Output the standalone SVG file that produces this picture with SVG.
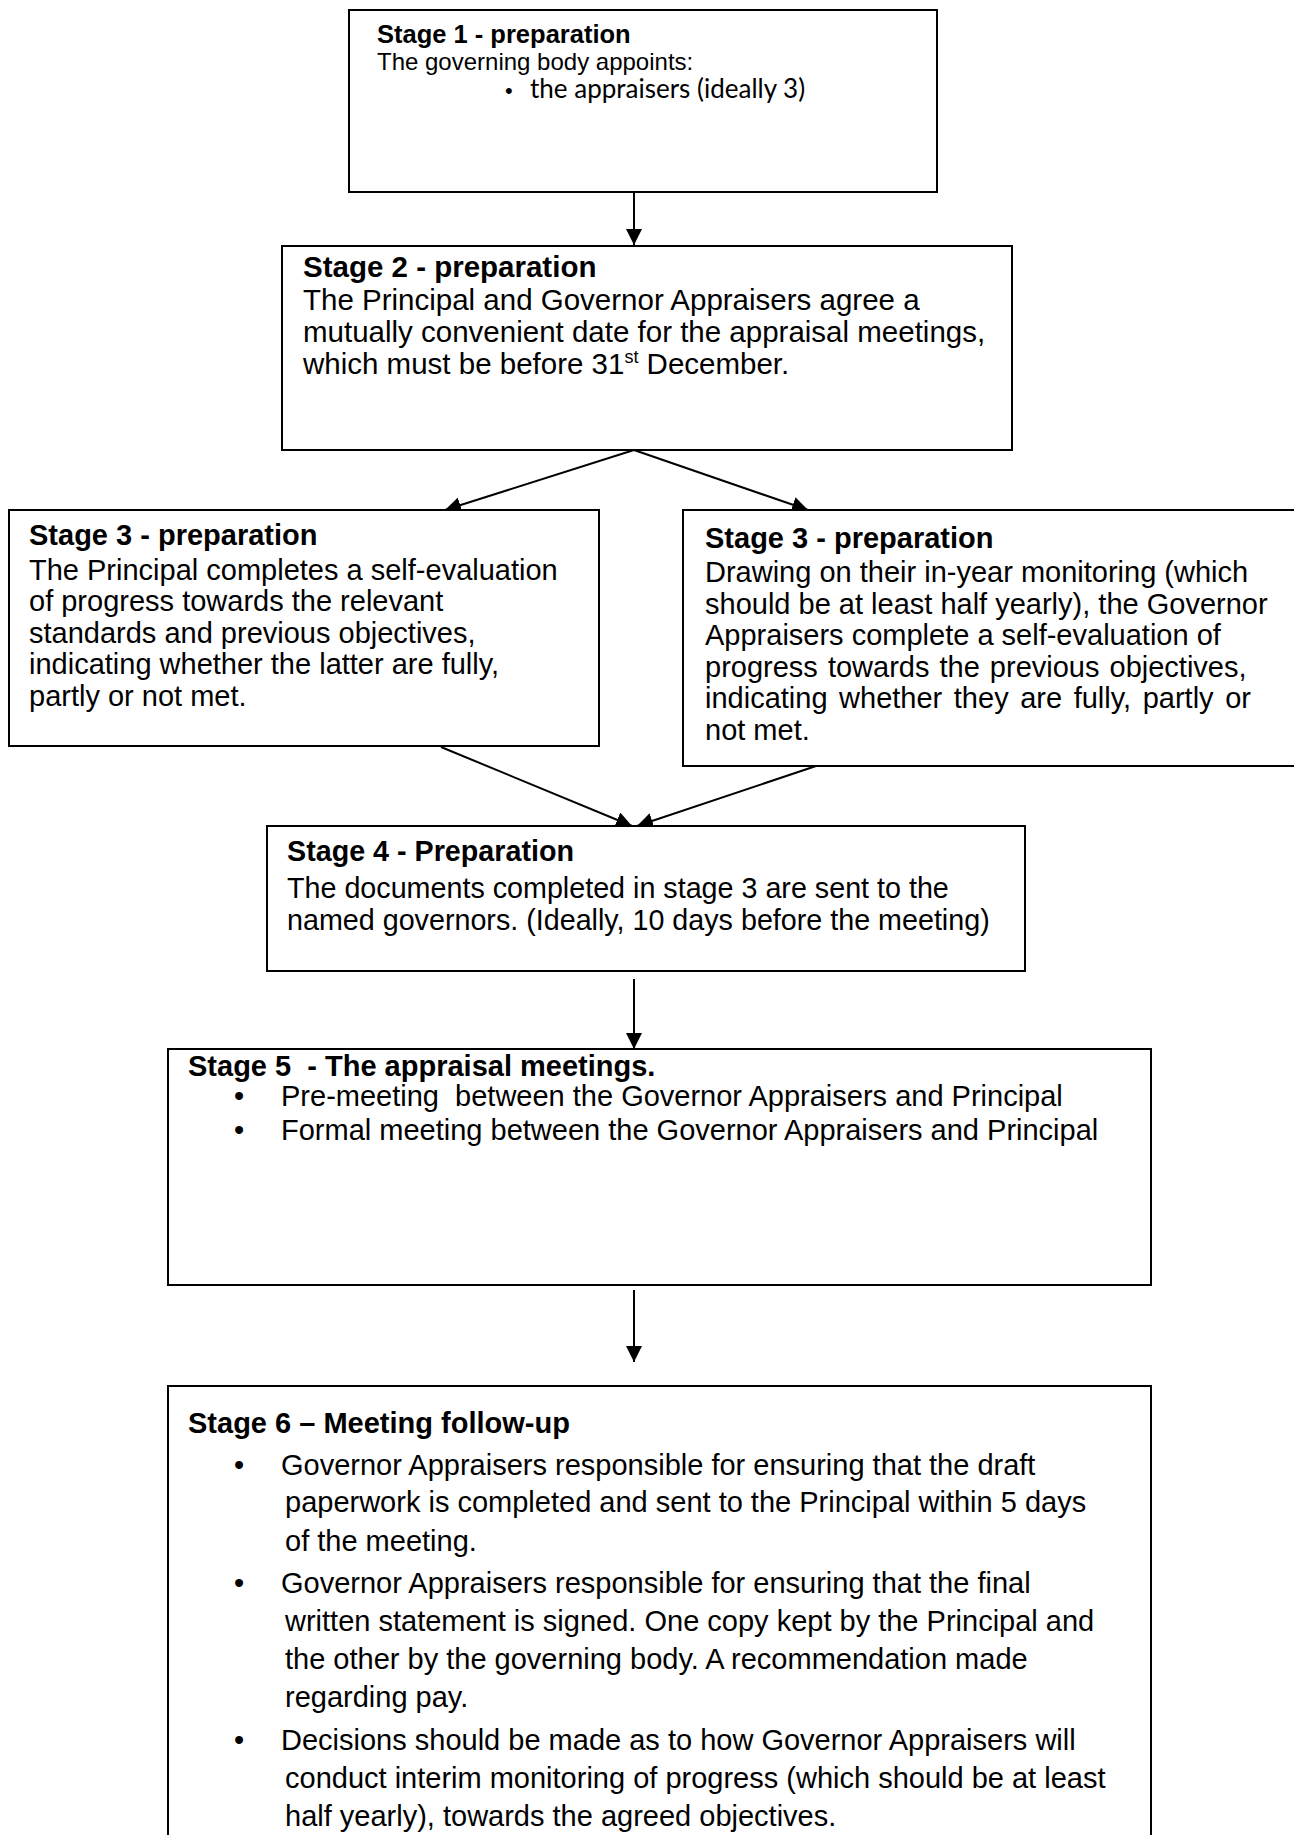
<svg xmlns="http://www.w3.org/2000/svg" width="1294" height="1835" viewBox="0 0 1294 1835">
<style>
.box{fill:#fff;stroke:#000;stroke-width:2}
.t{font-family:"Liberation Sans",Arial,sans-serif;fill:#000}
.b{font-weight:bold}
.cal{font-family:Lato,"Liberation Sans",sans-serif;fill:#000}
.c{stroke:#000;stroke-width:2;fill:none;marker-end:url(#ah)}
.s56{font-size:29px}
</style>
<defs>
<marker id="ah" markerUnits="userSpaceOnUse" markerWidth="16" markerHeight="16" viewBox="0 0 16 16" refX="16" refY="8" orient="auto">
<path d="M0,0 L16,8 L0,16 Z" fill="#000"/>
</marker>
</defs>
<rect width="1294" height="1835" fill="#fff"/>
<g id="connectors">
<line class="c" x1="634" y1="192" x2="634" y2="245"/>
<line class="c" x1="634" y1="450" x2="445" y2="510"/>
<line class="c" x1="634" y1="450" x2="808" y2="510"/>
<line class="c" x1="441" y1="747" x2="632" y2="826"/>
<line class="c" x1="816" y1="766" x2="637" y2="826"/>
<line class="c" x1="634" y1="979" x2="634" y2="1049"/>
<line class="c" x1="634" y1="1290" x2="634" y2="1362"/>
</g>
<g id="stage1">
<rect class="box" x="349" y="10" width="588" height="182"/>
<text class="t b" x="377" y="43" font-size="25.5">Stage 1 - preparation</text>
<text class="t" x="377" y="70" font-size="24">The governing body appoints:</text>
<text class="t" x="505" y="98" font-size="22">•</text>
<text class="cal" x="530" y="98" font-size="26">the appraisers (ideally 3)</text>
</g>
<g id="stage2">
<rect class="box" x="282" y="246" width="730" height="204"/>
<text class="t b" x="303" y="277" font-size="29.5">Stage 2 - preparation</text>
<text class="t" x="303" y="310" font-size="29.5">The Principal and Governor Appraisers agree a</text>
<text class="t" x="303" y="342" font-size="29.5">mutually convenient date for the appraisal meetings,</text>
<text class="t" x="303" y="374" font-size="29.5">which must be before 31<tspan font-size="18" dy="-11">st</tspan><tspan dy="11"> December.</tspan></text>
</g>
<g id="stage3a">
<rect class="box" x="9" y="510" width="590" height="236"/>
<text class="t b" x="29" y="545" font-size="29">Stage 3 - preparation</text>
<text class="t" x="29" y="580" font-size="29">The Principal completes a self-evaluation</text>
<text class="t" x="29" y="611" font-size="29">of progress towards the relevant</text>
<text class="t" x="29" y="643" font-size="29">standards and previous objectives,</text>
<text class="t" x="29" y="674" font-size="29">indicating whether the latter are fully,</text>
<text class="t" x="29" y="706" font-size="29">partly or not met.</text>
</g>
<g id="stage3b">
<rect class="box" x="683" y="510" width="620" height="256"/>
<text class="t b" x="705" y="548" font-size="29">Stage 3 - preparation</text>
<text class="t" x="705" y="582" font-size="29">Drawing on their in-year monitoring (which</text>
<text class="t" x="705" y="614" font-size="29">should be at least half yearly), the Governor</text>
<text class="t" x="705" y="645" font-size="29">Appraisers complete a self-evaluation of</text>
<text class="t" x="705" y="677" font-size="29" word-spacing="2">progress towards the previous objectives,</text>
<text class="t" x="705" y="708" font-size="29" word-spacing="3.5">indicating whether they are fully, partly or</text>
<text class="t" x="705" y="740" font-size="29">not met.</text>
</g>
<g id="stage4">
<rect class="box" x="267" y="826" width="758" height="145"/>
<text class="t b" x="287" y="861" font-size="28.7">Stage 4 - Preparation</text>
<text class="t" x="287" y="898" font-size="28.7">The documents completed in stage 3 are sent to the</text>
<text class="t" x="287" y="930" font-size="28.7">named governors. (Ideally, 10 days before the meeting)</text>
</g>
<g id="stage5">
<rect class="box" x="168" y="1049" width="983" height="236"/>
<text class="t b s56" x="188" y="1076" xml:space="preserve">Stage 5  - The appraisal meetings.</text>
<text class="t s56" x="234" y="1106">•</text>
<text class="t s56" x="281" y="1106" xml:space="preserve">Pre-meeting  between the Governor Appraisers and Principal</text>
<text class="t s56" x="234" y="1140">•</text>
<text class="t s56" x="281" y="1140">Formal meeting between the Governor Appraisers and Principal</text>
</g>
<g id="stage6">
<rect class="box" x="168" y="1386" width="983" height="470"/>
<text class="t b s56" x="188" y="1433">Stage 6 – Meeting follow-up</text>
<text class="t s56" x="234" y="1475">•</text>
<text class="t s56" x="281" y="1475">Governor Appraisers responsible for ensuring that the draft</text>
<text class="t s56" x="285" y="1512">paperwork is completed and sent to the Principal within 5 days</text>
<text class="t s56" x="285" y="1551">of the meeting.</text>
<text class="t s56" x="234" y="1593">•</text>
<text class="t s56" x="281" y="1593">Governor Appraisers responsible for ensuring that the final</text>
<text class="t s56" x="285" y="1631">written statement is signed. One copy kept by the Principal and</text>
<text class="t s56" x="285" y="1669">the other by the governing body. A recommendation made</text>
<text class="t s56" x="285" y="1707">regarding pay.</text>
<text class="t s56" x="234" y="1750">•</text>
<text class="t s56" x="281" y="1750">Decisions should be made as to how Governor Appraisers will</text>
<text class="t s56" x="285" y="1788">conduct interim monitoring of progress (which should be at least</text>
<text class="t s56" x="285" y="1826">half yearly), towards the agreed objectives.</text>
</g>
</svg>
